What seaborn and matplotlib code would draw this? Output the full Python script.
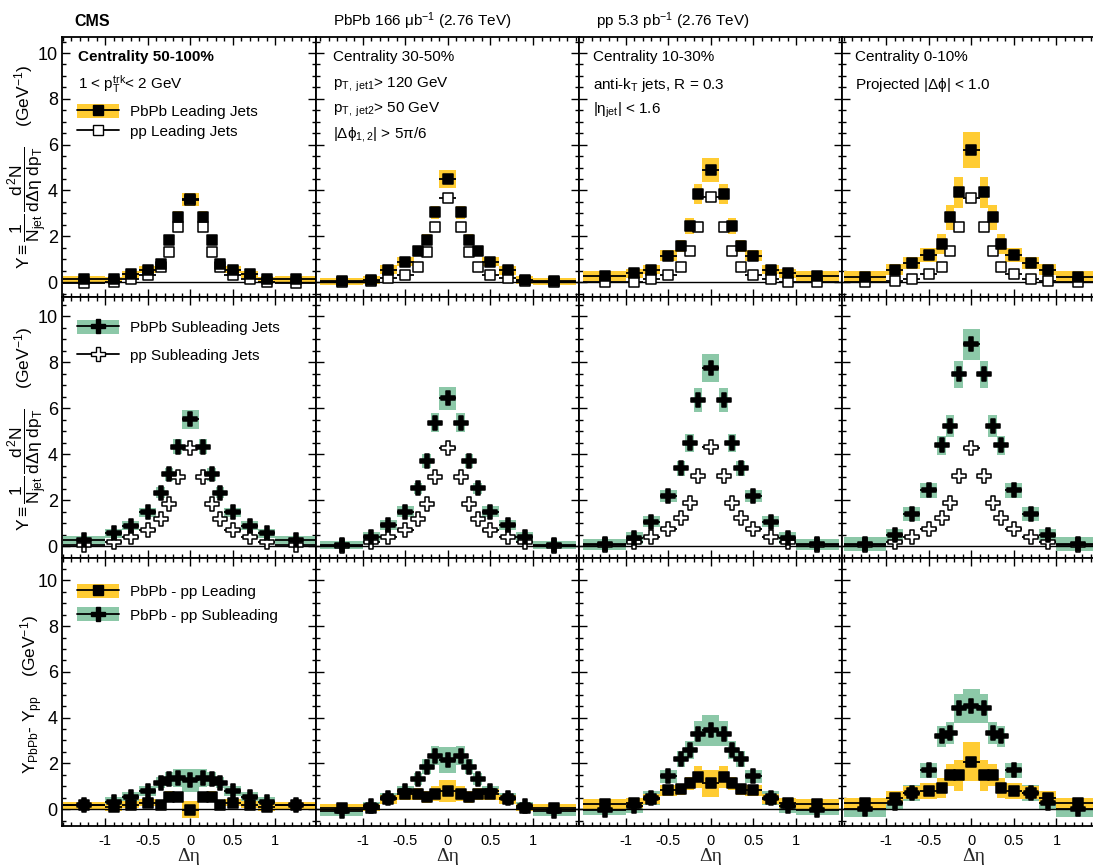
import numpy as np
import matplotlib
matplotlib.use("Agg")
import matplotlib.pyplot as plt
import seaborn as sns
from matplotlib.patches import Patch
from matplotlib.lines import Line2D
from matplotlib.ticker import MultipleLocator

# Delta-eta binning and panel labels
deta_edges = [-1.5, -1.0, -0.8, -0.6, -0.4, -0.3, -0.2, -0.1, 0.1, 0.2, 0.3, 0.4, 0.6, 0.8, 1.0, 1.5]
centralities = ["Centrality 50-100%", "Centrality 30-50%", "Centrality 10-30%", "Centrality 0-10%"]

# leading jets (top row), one list per centrality column
lead_pbpb = [
    [0.12, 0.12, 0.35, 0.55, 0.79, 1.86, 2.85, 3.62, 2.85, 1.86, 0.79, 0.55, 0.35, 0.12, 0.12],
    [0.04, 0.09, 0.55, 0.89, 1.35, 1.86, 3.04, 4.50, 3.04, 1.86, 1.35, 0.89, 0.52, 0.09, 0.04],
    [0.26, 0.38, 0.55, 1.16, 1.57, 2.46, 3.83, 4.89, 3.83, 2.46, 1.57, 1.16, 0.55, 0.38, 0.26],
    [0.23, 0.55, 0.82, 1.18, 1.66, 2.83, 3.92, 5.76, 3.92, 2.83, 1.66, 1.18, 0.82, 0.55, 0.23],
]
lead_pbpb_syst = [
    [0.15, 0.12, 0.15, 0.17, 0.20, 0.20, 0.26, 0.29, 0.26, 0.20, 0.20, 0.17, 0.15, 0.12, 0.15],
    [0.16, 0.19, 0.19, 0.20, 0.20, 0.24, 0.30, 0.38, 0.30, 0.24, 0.20, 0.20, 0.19, 0.19, 0.16],
    [0.23, 0.21, 0.21, 0.23, 0.25, 0.35, 0.44, 0.52, 0.44, 0.35, 0.25, 0.23, 0.21, 0.21, 0.23],
    [0.25, 0.25, 0.26, 0.31, 0.44, 0.55, 0.68, 0.79, 0.68, 0.55, 0.44, 0.31, 0.26, 0.25, 0.25],
]
lead_pp = [
    [-0.03, 0.01, 0.12, 0.29, 0.67, 1.33, 2.42, 3.60, 2.42, 1.33, 0.67, 0.29, 0.12, 0.01, -0.03],
    [0.00, 0.05, 0.17, 0.32, 0.67, 1.33, 2.42, 3.68, 2.42, 1.33, 0.67, 0.32, 0.17, 0.05, 0.00],
    [0.00, 0.02, 0.15, 0.32, 0.67, 1.35, 2.42, 3.70, 2.42, 1.35, 0.67, 0.32, 0.15, 0.02, 0.00],
    [0.00, 0.07, 0.15, 0.34, 0.67, 1.35, 2.42, 3.68, 2.42, 1.35, 0.67, 0.34, 0.15, 0.07, 0.00],
]

# subleading jets (middle row)
sub_pbpb = [
    [0.26, 0.55, 0.88, 1.46, 2.32, 3.13, 4.32, 5.51, 4.32, 3.13, 2.32, 1.46, 0.88, 0.55, 0.26],
    [0.04, 0.38, 0.91, 1.49, 2.51, 3.71, 5.36, 6.42, 5.36, 3.71, 2.51, 1.49, 0.91, 0.38, 0.04],
    [0.07, 0.33, 1.06, 2.19, 3.38, 4.49, 6.35, 7.75, 6.35, 4.49, 3.38, 2.19, 1.06, 0.33, 0.07],
    [0.09, 0.48, 1.38, 2.43, 4.39, 5.22, 7.46, 8.78, 7.46, 5.22, 4.39, 2.43, 1.38, 0.48, 0.09],
]
sub_pbpb_syst = [
    [0.16, 0.19, 0.20, 0.20, 0.23, 0.28, 0.32, 0.42, 0.32, 0.28, 0.23, 0.20, 0.20, 0.19, 0.16],
    [0.17, 0.22, 0.23, 0.23, 0.25, 0.31, 0.42, 0.49, 0.42, 0.31, 0.25, 0.23, 0.23, 0.22, 0.17],
    [0.23, 0.26, 0.23, 0.26, 0.32, 0.38, 0.51, 0.60, 0.51, 0.38, 0.32, 0.26, 0.23, 0.26, 0.23],
    [0.29, 0.27, 0.30, 0.33, 0.41, 0.47, 0.59, 0.67, 0.59, 0.47, 0.41, 0.33, 0.30, 0.27, 0.29],
]
sub_pp = [
    [0.04, 0.19, 0.38, 0.70, 1.16, 1.83, 2.99, 4.25, 2.99, 1.83, 1.16, 0.70, 0.38, 0.19, 0.04],
    [0.00, 0.19, 0.38, 0.70, 1.16, 1.83, 3.01, 4.25, 3.01, 1.83, 1.16, 0.70, 0.38, 0.19, 0.00],
    [0.04, 0.19, 0.41, 0.72, 1.20, 1.88, 3.04, 4.29, 3.04, 1.88, 1.20, 0.72, 0.41, 0.19, 0.04],
    [0.04, 0.19, 0.41, 0.72, 1.20, 1.88, 3.04, 4.28, 3.04, 1.88, 1.20, 0.72, 0.41, 0.19, 0.04],
]

# PbPb - pp (bottom row)
diff_lead = [
    [0.17, 0.08, 0.20, 0.27, 0.18, 0.55, 0.52, -0.03, 0.52, 0.55, 0.18, 0.27, 0.20, 0.08, 0.17],
    [0.06, 0.06, 0.42, 0.64, 0.67, 0.52, 0.67, 0.79, 0.67, 0.52, 0.67, 0.64, 0.42, 0.06, 0.06],
    [0.23, 0.28, 0.45, 0.82, 0.86, 1.12, 1.40, 1.12, 1.40, 1.12, 0.86, 0.82, 0.45, 0.28, 0.23],
    [0.25, 0.49, 0.71, 0.79, 0.93, 1.48, 1.48, 2.07, 1.48, 1.48, 0.93, 0.79, 0.71, 0.49, 0.25],
]
diff_lead_syst = [
    [0.15, 0.15, 0.15, 0.15, 0.15, 0.22, 0.22, 0.38, 0.22, 0.22, 0.15, 0.15, 0.15, 0.15, 0.15],
    [0.16, 0.15, 0.18, 0.24, 0.26, 0.27, 0.32, 0.49, 0.32, 0.27, 0.26, 0.24, 0.18, 0.15, 0.16],
    [0.22, 0.22, 0.22, 0.24, 0.25, 0.29, 0.47, 0.60, 0.47, 0.29, 0.25, 0.24, 0.22, 0.22, 0.22],
    [0.25, 0.28, 0.29, 0.33, 0.45, 0.49, 0.68, 0.85, 0.68, 0.49, 0.45, 0.33, 0.29, 0.28, 0.25],
]
diff_sub = [
    [0.16, 0.33, 0.53, 0.78, 1.15, 1.33, 1.35, 1.25, 1.35, 1.33, 1.15, 0.78, 0.53, 0.33, 0.16],
    [-0.09, 0.13, 0.49, 0.79, 1.32, 1.85, 2.34, 2.14, 2.34, 1.85, 1.32, 0.79, 0.49, 0.13, -0.09],
    [-0.06, 0.13, 0.49, 1.44, 2.20, 2.58, 3.30, 3.45, 3.30, 2.58, 2.20, 1.44, 0.49, 0.13, -0.06],
    [0.00, 0.28, 0.71, 1.70, 3.19, 3.33, 4.40, 4.50, 4.40, 3.33, 3.19, 1.70, 0.71, 0.28, 0.00],
]
diff_sub_syst = [
    [0.15, 0.18, 0.20, 0.22, 0.25, 0.30, 0.40, 0.51, 0.40, 0.30, 0.25, 0.22, 0.20, 0.18, 0.15],
    [0.22, 0.18, 0.23, 0.22, 0.27, 0.33, 0.40, 0.58, 0.40, 0.33, 0.27, 0.22, 0.23, 0.18, 0.22],
    [0.22, 0.31, 0.32, 0.29, 0.35, 0.38, 0.53, 0.68, 0.53, 0.38, 0.35, 0.29, 0.32, 0.31, 0.22],
    [0.36, 0.28, 0.36, 0.33, 0.46, 0.49, 0.63, 0.73, 0.63, 0.49, 0.46, 0.33, 0.36, 0.28, 0.36],
]

ORANGE = "#ffcc33"
GREEN = "#8cc8a8"
W, H = 1093, 868

sns.set_theme(style="ticks", rc={"axes.edgecolor": "black", "xtick.color": "black",
                                 "ytick.color": "black", "text.color": "black"})
plt.rcParams["font.family"] = ["Liberation Sans", "DejaVu Sans"]
plt.rcParams["mathtext.fontset"] = "custom"
plt.rcParams["mathtext.rm"] = "Liberation Sans"
plt.rcParams["mathtext.it"] = "Liberation Sans"
plt.rcParams["mathtext.bf"] = "Liberation Sans:bold"
plt.rcParams["axes.unicode_minus"] = False

edges = np.array(deta_edges)
left = edges[:-1]
right = edges[1:]
widths = right - left
centers = 0.5 * (left + right)

fig = plt.figure(figsize=(W / 100, H / 100), dpi=100)


def fx(x):
    return x / W


def fy(y):
    return 1 - y / H


def band(ax, y, err, color):
    y = np.asarray(y)
    err = np.asarray(err)
    ax.bar(left, 2 * err, width=widths, bottom=y - err, align="edge",
           color=color, linewidth=0, zorder=1)


def points(ax, y, marker, size, face):
    ax.hlines(y, left, right, color="black", lw=1.3, zorder=3)
    sns.scatterplot(x=centers, y=np.asarray(y), ax=ax, marker=marker, s=size,
                    color=face, edgecolor="black", linewidth=1.1, zorder=4, legend=False)


# pixel layout of the 4x3 grid
cols = [(62, 254, (-1.51, 1.48)), (316, 263, (-1.55, 1.54)),
        (579, 263, (-1.55, 1.54)), (842, 263, (-1.52, 1.57))]
rows = [(37, 260, (-0.65, 10.7)), (297, 261, (-0.52, 10.83)), (558, 268, (-0.74, 10.98))]

axes = [[None] * 4 for _ in range(3)]
for r, (top, h, ylim) in enumerate(rows):
    for c, (lx, w, xlim) in enumerate(cols):
        ax = fig.add_axes([fx(lx), fy(top + h), w / W, h / H])
        axes[r][c] = ax
        ax.set_xlim(*xlim)
        ax.set_ylim(*ylim)
        ax.axhline(0, color="black", lw=1.0, zorder=2)

        if r == 0:
            band(ax, lead_pbpb[c], lead_pbpb_syst[c], ORANGE)
            points(ax, lead_pp[c], "s", 52, "white")
            points(ax, lead_pbpb[c], "s", 52, "black")
        elif r == 1:
            band(ax, sub_pbpb[c], sub_pbpb_syst[c], GREEN)
            points(ax, sub_pp[c], "P", 90, "white")
            points(ax, sub_pbpb[c], "P", 90, "black")
        else:
            band(ax, diff_sub[c], diff_sub_syst[c], GREEN)
            band(ax, diff_lead[c], diff_lead_syst[c], ORANGE)
            points(ax, diff_sub[c], "P", 90, "black")
            points(ax, diff_lead[c], "s", 52, "black")

        ax.set_xticks([-1, -0.5, 0, 0.5, 1])
        ax.xaxis.set_minor_locator(MultipleLocator(0.1))
        ax.set_yticks([0, 2, 4, 6, 8, 10])
        ax.yaxis.set_minor_locator(MultipleLocator(0.5))
        ax.tick_params(which="both", direction="in", top=True, right=True, width=1.0)
        ax.tick_params(which="major", length=6)
        ax.tick_params(which="minor", length=3)
        ax.tick_params(axis="y", labelsize=13, pad=3)
        ax.tick_params(axis="x", labelsize=10.5, pad=6)
        if r == 2:
            ax.set_xticklabels(["-1", "-0.5", "0", "0.5", "1"])
            ax.set_xlabel("Δη", fontsize=14, family="Liberation Serif", labelpad=0)
        else:
            ax.set_xticklabels([])
        if c == 0:
            ax.set_yticklabels(["0", "2", "4", "6", "8", "10"])
        else:
            ax.set_yticklabels([])
        for sp in ax.spines.values():
            sp.set_linewidth(1.3)
            sp.set_zorder(6)

# header texts
fig.text(fx(74), fy(21), "CMS", fontsize=11.5, fontweight="bold", va="center")
fig.text(fx(333), fy(21), r"PbPb 166 μb$^{-1}$ (2.76 TeV)", fontsize=11, va="center")
fig.text(fx(596), fy(21), r"pp 5.3 pb$^{-1}$ (2.76 TeV)", fontsize=11, va="center")

# panel annotations
fig.text(fx(78), fy(57), centralities[0], fontsize=11, fontweight="bold", va="center")
fig.text(fx(78), fy(84), r"1 < $\mathregular{p_{T}^{trk}}$< 2 GeV", fontsize=11, va="center")
fig.text(fx(333), fy(57), centralities[1], fontsize=11, va="center")
fig.text(fx(333), fy(85), r"$\mathregular{p_{T,\ jet1}}$> 120 GeV", fontsize=11, va="center")
fig.text(fx(333), fy(110), r"$\mathregular{p_{T,\ jet2}}$> 50 GeV", fontsize=11, va="center")
fig.text(fx(333), fy(134), r"|$\Delta\phi_{1,2}$| > 5π/6", fontsize=11, va="center")
fig.text(fx(593), fy(57), centralities[2], fontsize=11, va="center")
fig.text(fx(593), fy(85), r"anti-$\mathregular{k_{T}}$ jets, R = 0.3", fontsize=11, va="center")
fig.text(fx(593), fy(110), r"|$\eta_{\mathregular{jet}}$| < 1.6", fontsize=11, va="center")
fig.text(fx(855), fy(57), centralities[3], fontsize=11, va="center")
fig.text(fx(855), fy(85), r"Projected |$\Delta\phi$| < 1.0", fontsize=11, va="center")

# y axis titles
ylab = (r"$Y \equiv \dfrac{1}{N_{\mathregular{jet}}}\,\dfrac{d^{2}N}{d\Delta\eta\ dp_{\mathregular{T}}}$"
        r"    (GeV$^{-1}$)")
fig.text(fx(27), fy(167), ylab, rotation=90, fontsize=12.5, ha="center", va="center")
fig.text(fx(27), fy(429), ylab, rotation=90, fontsize=12.5, ha="center", va="center")
fig.text(fx(32), fy(694), r"$Y_{\mathregular{PbPb}}$- $Y_{\mathregular{pp}}$    (GeV$^{-1}$)",
         rotation=90, fontsize=12.5, ha="center", va="center")

# legends
leg_kw = dict(loc="upper left", bbox_transform=fig.transFigure, frameon=False, fontsize=11,
              handlelength=2.75, handleheight=1.0, handletextpad=0.7, borderaxespad=0, borderpad=0)
sq_f = Line2D([], [], color="black", lw=1.3, marker="s", ms=7.2)
sq_o = Line2D([], [], color="black", lw=1.3, marker="s", ms=7.2, mfc="white")
cr_f = Line2D([], [], color="black", lw=1.3, marker="P", ms=9.5)
cr_o = Line2D([], [], color="black", lw=1.3, marker="P", ms=9.5, mfc="white")
axes[0][0].legend([(Patch(fc=ORANGE, ec="none"), sq_f), sq_o],
                  ["PbPb Leading Jets", "pp Leading Jets"],
                  bbox_to_anchor=(fx(77), fy(104)), labelspacing=0.35, **leg_kw)
axes[1][0].legend([(Patch(fc=GREEN, ec="none"), cr_f), cr_o],
                  ["PbPb Subleading Jets", "pp Subleading Jets"],
                  bbox_to_anchor=(fx(77), fy(320)), labelspacing=0.85, **leg_kw)
axes[2][0].legend([(Patch(fc=ORANGE, ec="none"), sq_f), (Patch(fc=GREEN, ec="none"), cr_f)],
                  ["PbPb - pp Leading", "PbPb - pp Subleading"],
                  bbox_to_anchor=(fx(77), fy(584)), labelspacing=0.55, **leg_kw)

fig.savefig("out.png", dpi=100)
